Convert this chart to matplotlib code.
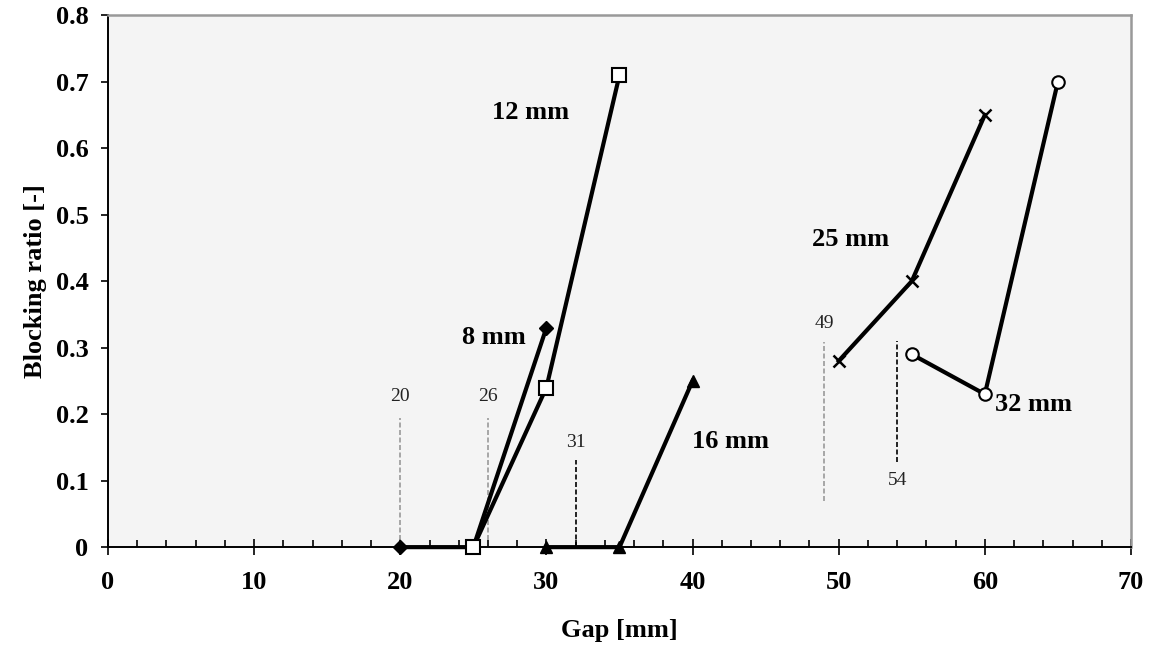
import numpy as np
import matplotlib.pyplot as plt
from matplotlib.ticker import MultipleLocator

plt.rcParams['font.family'] = ['Liberation Serif', 'DejaVu Serif']

# Blocking ratio vs gap for each particle size
gap_8 = [20, 25, 30]
br_8 = [0, 0, 0.33]
gap_12 = [25, 30, 35]
br_12 = [0, 0.24, 0.71]
gap_16 = [30, 35, 40]
br_16 = [0, 0, 0.25]
gap_25 = [50, 55, 60]
br_25 = [0.28, 0.40, 0.65]
gap_32 = [55, 60, 65]
br_32 = [0.29, 0.23, 0.70]

# Vertical reference markers: position, label, y range, label y
ref_x = [20, 26, 32, 49, 54]
ref_labels = ['20', '26', '31', '49', '54']
ref_ymin = [0.01, 0.01, 0.0, 0.07, 0.128]
ref_ymax = [0.194, 0.194, 0.131, 0.308, 0.31]
ref_label_y = [0.226, 0.226, 0.158, 0.337, 0.10]
ref_colors = ['#999999', '#999999', 'black', '#999999', 'black']

# Series labels
size_labels = ['8 mm', '12 mm', '16 mm', '25 mm', '32 mm']
size_label_x = [26.4, 28.9, 42.6, 50.8, 63.3]
size_label_y = [0.316, 0.653, 0.159, 0.462, 0.215]

fig = plt.figure(figsize=(11.52, 6.6), dpi=100)
ax = fig.add_axes([0.09375, 0.171, 0.888, 0.806])
ax.set_facecolor('#f4f4f4')

lw = 3
ax.plot(gap_8, br_8, color='black', lw=lw, marker='D', ms=7,
        mfc='black', mec='black', zorder=3, clip_on=False)
ax.plot(gap_12, br_12, color='black', lw=lw, marker='s', ms=10,
        mfc='white', mec='black', mew=1.5, zorder=4, clip_on=False)
ax.plot(gap_16, br_16, color='black', lw=lw, marker='^', ms=8,
        mfc='black', mec='black', zorder=3, clip_on=False)
ax.plot(gap_25, br_25, color='black', lw=lw, marker='x', ms=9,
        mew=1.8, zorder=3, clip_on=False)
ax.plot(gap_32, br_32, color='black', lw=lw, marker='o', ms=9,
        mfc='white', mec='black', mew=1.5, zorder=4, clip_on=False)

for x, lab, y0, y1, ly, c in zip(ref_x, ref_labels, ref_ymin, ref_ymax,
                                  ref_label_y, ref_colors):
    ax.plot([x, x], [y0, y1], color=c, lw=1.2, ls=(0, (3, 1.5)), zorder=2)
    ax.text(x, ly, lab, ha='center', va='center', fontsize=14, color='#222222')

for lab, x, y in zip(size_labels, size_label_x, size_label_y):
    ax.text(x, y, lab, ha='center', va='center', fontsize=19,
            fontweight='bold')

ax.set_xlim(0, 70)
ax.set_ylim(0, 0.8)
ax.xaxis.set_major_locator(MultipleLocator(10))
ax.xaxis.set_minor_locator(MultipleLocator(2))
ax.set_yticks(np.arange(0, 0.81, 0.1))
ax.set_yticklabels(['0'] + ['%.1f' % v for v in np.arange(0.1, 0.81, 0.1)])

ax.tick_params(axis='x', which='major', direction='inout', length=11,
               width=1.2, pad=12, labelsize=19)
ax.tick_params(axis='x', which='minor', direction='in', length=5, width=1.2)
ax.tick_params(axis='y', which='major', direction='out', length=5,
               width=1.2, pad=9, labelsize=19)
for lab in ax.get_xticklabels() + ax.get_yticklabels():
    lab.set_fontweight('bold')

for s in ['left', 'bottom']:
    ax.spines[s].set_color('black')
    ax.spines[s].set_linewidth(1.4)
for s in ['top', 'right']:
    ax.spines[s].set_color('#999999')
    ax.spines[s].set_linewidth(1.8)

ax.set_xlabel('Gap [mm]', fontsize=19, fontweight='bold', labelpad=18)
ax.set_ylabel('Blocking ratio [-]', fontsize=19, fontweight='bold', labelpad=6)

fig.savefig('out.png', dpi=100)
